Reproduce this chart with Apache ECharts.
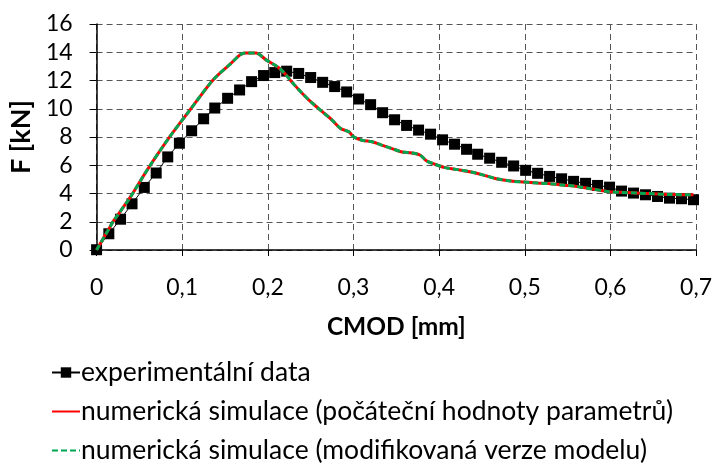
<!DOCTYPE html>
<html><head><meta charset="utf-8">
<script src="https://cdn.jsdelivr.net/npm/echarts@6/dist/echarts.min.js"></script>
<style>html,body{margin:0;padding:0;background:#fff}#c{width:715px;height:465px}</style>
</head><body><div id="c"></div>
<script>
const expX = [0,0.0143,0.028,0.0414,0.0557,0.0696,0.0831,0.0967,0.111,0.125,0.138,0.153,0.167,0.181,0.195,0.208,0.222,0.236,0.250,0.264,0.278,0.292,0.306,0.320,0.334,0.348,0.362,0.376,0.390,0.404,0.418,0.432,0.445,0.459,0.473,0.487,0.501,0.515,0.529,0.543,0.557,0.571,0.585,0.599,0.613,0.627,0.641,0.655,0.669,0.683,0.697];
const expF = [0.02,1.15,2.18,3.27,4.43,5.45,6.59,7.56,8.44,9.29,10.05,10.74,11.33,11.92,12.35,12.56,12.66,12.5,12.21,11.87,11.57,11.19,10.69,10.29,9.72,9.22,8.82,8.49,8.2,7.8,7.49,7.13,6.78,6.5,6.21,5.95,5.64,5.43,5.21,5.04,4.86,4.72,4.57,4.45,4.17,4.03,3.91,3.79,3.67,3.63,3.56];
const simX = [0,0.0143,0.020,0.0394,0.0588,0.0839,0.109,0.136,0.155,0.173,0.186,0.198,0.2135,0.221,0.231,0.240,0.250,0.2636,0.275,0.285,0.2947,0.300,0.310,0.3217,0.333,0.345,0.3566,0.368,0.378,0.3856,0.395,0.407,0.422,0.4377,0.453,0.4667,0.484,0.4997,0.515,0.530,0.546,0.561,0.577,0.596,0.6117,0.631,0.650,0.6697,0.697];
const simF1 = [0,1.49,2.08,3.74,5.64,7.89,9.91,12.04,13.1,13.94,13.94,13.46,12.87,12.4,11.69,11.1,10.5,9.79,9.2,8.6,8.37,8.01,7.77,7.66,7.42,7.18,6.94,6.87,6.71,6.3,6.07,5.83,5.69,5.52,5.28,5.05,4.88,4.81,4.74,4.69,4.59,4.5,4.34,4.15,4.08,4.03,3.98,3.93,3.91];
const simF2 = [0,1.49,2.08,3.74,5.64,7.89,9.91,12.04,13.1,13.94,13.94,13.46,12.87,12.4,11.69,11.1,10.5,9.79,9.2,8.6,8.37,8.01,7.77,7.66,7.42,7.18,6.94,6.87,6.71,6.3,6.07,5.83,5.69,5.52,5.28,5.05,4.88,4.81,4.74,4.69,4.59,4.5,4.34,4.15,4.08,4.03,3.98,3.93,3.91];
const names = ['experimentální data','numerická simulace (počáteční hodnoty parametrů)','numerická simulace (modifikovaná verze modelu)'];
const xTitle = 'CMOD [mm]';
const yTitle = 'F [kN]';

const FONT = 'Lato, "Open Sans", sans-serif';
const zip = (a,b) => a.map((v,i)=>[v,b[i]]);
const chart = echarts.init(document.getElementById('c'), null, {renderer:'canvas'});
const gridLine = {show:true, lineStyle:{color:'#555', type:[6,4], width:1}};
const legendTops = [359, 398, 437];
const mkLegend = (i) => ({
  orient:'vertical', left:51, top:legendTops[i], padding:0, itemWidth:28, itemHeight:13,
  textStyle:{fontFamily:FONT, fontSize:26.5, lineHeight:24, color:'#000', padding:[0,0,0,-4]},
  data:[ i===0 ? {name:names[0]} : {name:names[i], itemStyle:{opacity:0}} ]
});
chart.setOption({
  animation:false,
  textStyle:{fontFamily:FONT},
  grid:{left:96, right:16, top:24, bottom:215, containLabel:false},
  xAxis:{type:'value', min:0, max:0.7, interval:0.1,
    name:xTitle, nameLocation:'middle', nameGap:65,
    nameTextStyle:{fontFamily:FONT, fontSize:24.5, fontWeight:'bold', color:'#000'},
    axisLine:{lineStyle:{color:'#000', width:1.5}},
    axisTick:{show:true, length:6, lineStyle:{color:'#000'}},
    axisLabel:{fontFamily:FONT, fontSize:23, color:'#000', margin:26,
      formatter:v=> v===0?'0':v.toFixed(1).replace('.',',')},
    splitLine:gridLine},
  yAxis:{type:'value', min:0, max:16, interval:2,
    name:yTitle, nameLocation:'middle', nameGap:60, nameRotate:90,
    nameTextStyle:{fontFamily:FONT, fontSize:27, fontWeight:'bold', color:'#000'},
    axisLine:{show:true, lineStyle:{color:'#000', width:1.5}},
    axisTick:{show:true, length:7, lineStyle:{color:'#000'}},
    axisLabel:{fontFamily:FONT, fontSize:23, color:'#000', margin:24},
    splitLine:gridLine},
  legend:[mkLegend(0), mkLegend(1), mkLegend(2)],
  series:[
    {name:names[0], type:'line', data:zip(expX,expF), symbol:'rect', symbolSize:11,
      itemStyle:{color:'#000'}, lineStyle:{color:'#000', width:1}, z:2},
    {name:names[1], type:'line', data:zip(simX,simF1), symbol:'none', smooth:0.3,
      itemStyle:{color:'#ff0000'}, lineStyle:{color:'#ff0000', width:3}, z:3},
    {name:names[2], type:'line', data:zip(simX,simF2), symbol:'none', smooth:0.3,
      itemStyle:{color:'#00a650'}, lineStyle:{color:'#00a650', width:3, type:[6,3]}, z:4}
  ]
});
</script></body></html>
